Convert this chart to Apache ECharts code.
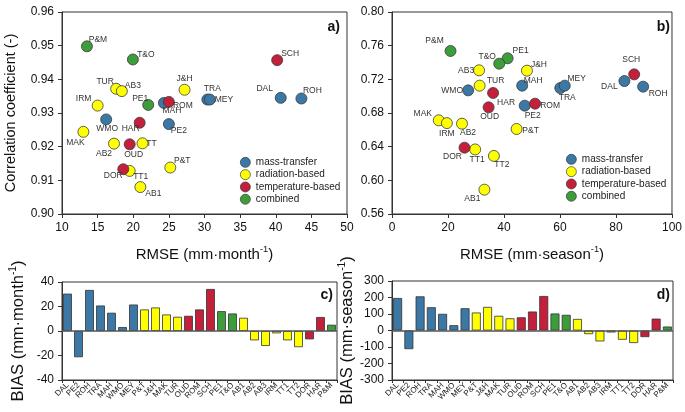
<!DOCTYPE html>
<html>
<head>
<meta charset="utf-8">
<script src="https://cdn.jsdelivr.net/npm/echarts@6/dist/echarts.min.js"></script>
<style>html,body{margin:0;padding:0;background:#fff}#c{width:685px;height:412px}</style>
</head>
<body>
<div id="c"></div>
<script>
// ---------- DATA ----------
const methods = ['DAL','PE2','ROH','TRA','MAH','WMO','MEY','P&T','J&H','MAK','TUR','OUD','ROM','SCH','PE1','T&O','AB1','AB2','AB3','IRM','TT1','TT2','DOR','HAR','P&M'];
const groups = ['mass-transfer','radiation-based','temperature-based','combined'];
const methodGroup = [0,0,0,0,0,0,0,1,1,1,1,2,2,2,3,3,1,1,1,1,1,1,2,2,3];

const rmseMonth = [40.7,25.0,43.6,30.4,24.3,16.2,30.75,25.2,27.2,13.0,17.6,19.5,25.0,40.2,22.1,19.95,21.0,17.3,18.4,15.0,19.5,21.3,18.6,20.9,13.5];
const corrMonth = [0.9345,0.9267,0.9343,0.934,0.933,0.9281,0.934,0.9138,0.9369,0.9244,0.9372,0.9207,0.9333,0.9457,0.9324,0.9459,0.908,0.9209,0.9365,0.9322,0.9128,0.921,0.9133,0.9271,0.9498];

const rmseSeason = [83.0,47.4,89.7,60.1,46.5,27.2,61.7,44.5,48.2,16.7,31.3,34.5,51.1,86.5,41.3,38.3,33.0,25.0,31.1,19.6,29.7,36.4,25.9,36.1,20.9];
const corrSeason = [0.718,0.6887,0.7113,0.7097,0.7125,0.7069,0.7125,0.661,0.7303,0.6713,0.7125,0.6867,0.6911,0.7259,0.745,0.7386,0.5889,0.6673,0.7307,0.668,0.6367,0.629,0.6388,0.7038,0.7537];

const biasMonth = [30.5,-21.4,33.5,20.8,14.9,3.2,21.6,17.6,19.2,13.5,11.6,12.4,17.6,34.3,16.2,14.3,10.8,-7.6,-12.2,-1.9,-7.6,-13.2,-6.8,11.4,5.1];
const biasSeason = [197,-113,207,141,101,32,135,109,143,89,74,80,115,209,103,95,70,-22,-66,-12,-56,-76,-40,72,24];

const labelTextMonth = {'TT2':'TT'};

// ---------- STYLE ----------
const FONT = 'Liberation Sans, Arial, sans-serif';
const colors = ['#3b78a6','#ffff00','#c41f3b','#3d9d3b'];
// label offsets (label centre relative to marker centre, px)
const offA = {'P&M':[11,-7],'T&O':[13,-5],'SCH':[13,-6],'TUR':[-11,-7],'AB3':[11,-5],'J&H':[0,-11],'TRA':[5,-11],'MEY':[14,0],'DAL':[-16,-9],'ROH':[11,-8],'IRM':[-14,-7],'PE1':[-8,-6],'MAH':[8,8],'ROM':[14,4],'WMO':[1,9],'HAR':[-9,6],'PE2':[10,7],'MAK':[-8,11],'AB2':[-10,10],'OUD':[4,10],'TT2':[9,0],'P&T':[12,-7],'DOR':[-10,6],'TT1':[11,6],'AB1':[13,7]};
const offB = {'P&M':[-16,-10],'T&O':[-12,-7],'PE1':[13,-8],'AB3':[-13,0],'J&H':[12,-6],'SCH':[-3,-15],'DAL':[-15,6],'ROH':[15,7],'MEY':[12,-7],'TRA':[7,10],'MAH':[11,-5],'TUR':[16,-5],'WMO':[-16,0],'HAR':[13,10],'OUD':[1,9],'PE2':[8,10],'ROM':[15,2],'MAK':[-16,-7],'IRM':[0,11],'AB2':[6,9],'P&T':[14,2],'DOR':[-12,9],'TT1':[2,10],'TT2':[8,9],'AB1':[-12,9]};

function scatterSeries(panel, xs, ys, offs, texts) {
  return groups.map((g, gi) => ({
    type: 'scatter', name: g, xAxisIndex: panel, yAxisIndex: panel,
    symbolSize: 11,
    itemStyle: {color: colors[gi], borderColor: '#3a3a3a', borderWidth: 0.8, opacity: 1},
    data: methods.map((m, i) => methodGroup[i] === gi ? {
      name: m, value: [xs[i], ys[i]],
      label: {offset: offs[m] || [10, 0], formatter: (texts && texts[m]) || m}
    } : null).filter(d => d),
    label: {show: true, position: 'inside', fontSize: 8.5, color: '#333', fontFamily: FONT, align: 'center', verticalAlign: 'middle'},
    emphasis: {disabled: true}, z: 3
  }));
}

function barSeries(panel, vals) {
  return {
    type: 'bar', xAxisIndex: panel, yAxisIndex: panel, barWidth: '80%',
    data: vals.map((v, i) => ({value: v, itemStyle: {color: colors[methodGroup[i]], borderColor: '#333', borderWidth: 0.8}})),
    markLine: {silent: true, symbol: 'none', label: {show: false}, lineStyle: {color: '#555', width: 1.5, type: 'solid'}, data: [{yAxis: 0}]},
    emphasis: {disabled: true}
  };
}

const axisCommon = {
  axisLine: {show: true, onZero: false, lineStyle: {color: '#333', width: 1}},
  axisTick: {show: true, length: 4, lineStyle: {color: '#333'}},
  splitLine: {show: false},
  axisLabel: {fontSize: 12, color: '#111', fontFamily: FONT}
};
function rich(main, sup, size) {
  return {
    name: '{a|' + main + '}{s|-1}{a|)}',
    nameTextStyle: {rich: {a: {fontSize: size, fontFamily: FONT, color: '#111', lineHeight: size + 2, verticalAlign: 'bottom'}, s: {fontSize: size * 0.62, fontFamily: FONT, color: '#111', verticalAlign: 'top', lineHeight: size + 2}}}
  };
}

const legendCommon = {data: groups, orient: 'vertical', itemWidth: 11, itemHeight: 10, itemGap: 1.6, icon: 'circle', padding: 0,
  itemStyle: {borderWidth: 0.7, borderColor: '#3a3a3a'},
  textStyle: {fontSize: 10, color: '#222', fontFamily: FONT, lineHeight: 10}, selectedMode: false};

const chart = echarts.init(document.getElementById('c'), null, {renderer: 'canvas'});
const gridStyle = {show: true, borderColor: '#333', borderWidth: 1, backgroundColor: 'transparent'};
chart.setOption({
  animation: false,
  textStyle: {fontFamily: FONT},
  grid: [
    Object.assign({left: 62, right: 338, top: 12, bottom: 198}, gridStyle),
    Object.assign({left: 392, right: 12, top: 12, bottom: 198}, gridStyle),
    Object.assign({left: 62, right: 348, top: 282, bottom: 32}, gridStyle),
    Object.assign({left: 392, right: 12, top: 281, bottom: 32}, gridStyle)
  ],
  xAxis: [
    Object.assign({}, axisCommon, {gridIndex: 0, type: 'value', min: 10, max: 50, interval: 5, nameLocation: 'middle', nameGap: 31}, rich('RMSE (mm·month', '-1', 15)),
    Object.assign({}, axisCommon, {gridIndex: 1, type: 'value', min: 0, max: 100, interval: 20, nameLocation: 'middle', nameGap: 31}, rich('RMSE (mm·season', '-1', 15)),
    Object.assign({}, axisCommon, {gridIndex: 2, type: 'category', data: methods,
      axisTick: {show: true, length: 3, alignWithLabel: false, lineStyle: {color: '#333'}},
      axisLabel: {interval: 0, rotate: 45, fontSize: 8, color: '#222', fontFamily: FONT, margin: 4}}),
    Object.assign({}, axisCommon, {gridIndex: 3, type: 'category', data: methods,
      axisTick: {show: true, length: 3, alignWithLabel: false, lineStyle: {color: '#333'}},
      axisLabel: {interval: 0, rotate: 45, fontSize: 8, color: '#222', fontFamily: FONT, margin: 4}})
  ],
  yAxis: [
    Object.assign({}, axisCommon, {gridIndex: 0, type: 'value', min: 0.90, max: 0.96, interval: 0.01,
      axisLabel: Object.assign({}, axisCommon.axisLabel, {formatter: v => v.toFixed(2)}),
      name: 'Correlation coefficient (-)', nameLocation: 'middle', nameGap: 44, nameTextStyle: {fontSize: 14.5, color: '#111', fontFamily: FONT}}),
    Object.assign({}, axisCommon, {gridIndex: 1, type: 'value', min: 0.56, max: 0.80, interval: 0.04,
      axisLabel: Object.assign({}, axisCommon.axisLabel, {formatter: v => v.toFixed(2)})}),
    Object.assign({}, axisCommon, {gridIndex: 2, type: 'value', min: -40, max: 40, interval: 20, nameLocation: 'middle', nameGap: 35}, rich('BIAS (mm·month', '-1', 16.5)),
    Object.assign({}, axisCommon, {gridIndex: 3, type: 'value', min: -300, max: 300, interval: 100, nameLocation: 'middle', nameGap: 30}, rich('BIAS (mm·season', '-1', 16.5))
  ],
  legend: [
    Object.assign({left: 240, top: 157}, legendCommon),
    Object.assign({left: 566, top: 154}, legendCommon)
  ],
  graphic: [
    {type: 'text', right: 345, top: 20, style: {text: 'a)', font: 'bold 14px ' + FONT, fill: '#111'}},
    {type: 'text', right: 15, top: 20, style: {text: 'b)', font: 'bold 14px ' + FONT, fill: '#111'}},
    {type: 'text', right: 352, top: 288, style: {text: 'c)', font: 'bold 14px ' + FONT, fill: '#111'}},
    {type: 'text', right: 15, top: 288, style: {text: 'd)', font: 'bold 14px ' + FONT, fill: '#111'}}
  ],
  series: [].concat(
    scatterSeries(0, rmseMonth, corrMonth, offA, labelTextMonth),
    scatterSeries(1, rmseSeason, corrSeason, offB, null),
    [barSeries(2, biasMonth), barSeries(3, biasSeason)]
  )
});
</script>
</body>
</html>
